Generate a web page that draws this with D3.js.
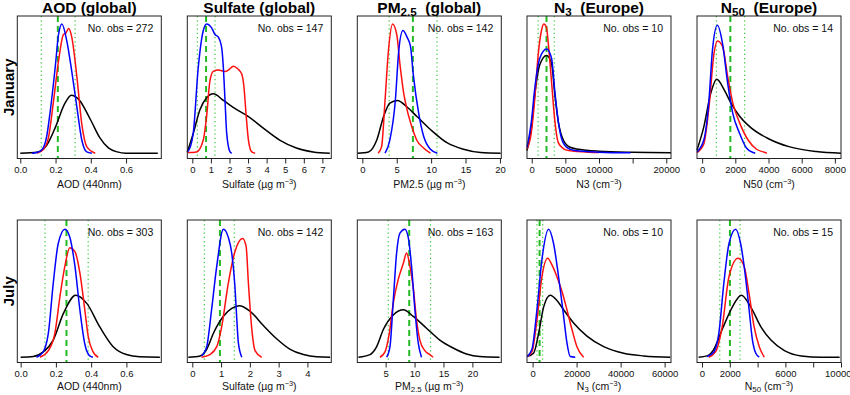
<!DOCTYPE html>
<html>
<head>
<meta charset="utf-8">
<script src="https://cdn.jsdelivr.net/npm/d3@7"></script>
<style>
  body { margin: 0; background: #fff; }
  text { font-family: "Liberation Sans", Arial, sans-serif; }
</style>
</head>
<body>
<script>
// density curves: [value, density relative to the tallest curve of the panel]
const aodJanBlue  = [[0.066,0],[0.095,0.005],[0.125,0.03],[0.15,0.13],[0.17,0.32],[0.198,0.65],[0.217,0.9],[0.236,0.98],[0.264,0.85],[0.292,0.62],[0.321,0.35],[0.349,0.1],[0.377,0.01],[0.406,0]];
const aodJanRed   = [[0.094,0],[0.132,0.03],[0.16,0.12],[0.189,0.4],[0.217,0.7],[0.245,0.9],[0.258,0.91],[0.274,0.945],[0.292,0.88],[0.321,0.58],[0.349,0.22],[0.377,0.05],[0.425,0]];
const aodJanBlack = [[0,0],[0.1,0.01],[0.15,0.06],[0.2,0.2],[0.25,0.37],[0.29,0.44],[0.33,0.41],[0.4,0.25],[0.45,0.12],[0.5,0.04],[0.55,0.01],[0.6,0],[0.78,0]];

const sulJanBlue  = [[-0.27,0.01],[-0.1,0.05],[0.05,0.15],[0.32,0.65],[0.59,0.93],[0.77,0.98],[1.04,0.95],[1.22,0.9],[1.4,0.88],[1.58,0.8],[1.67,0.65],[1.76,0.4],[1.85,0.15],[2.03,0.01],[2.12,0]];
const sulJanRed   = [[-0.27,0.005],[0.23,0.01],[0.59,0.1],[0.77,0.28],[0.95,0.55],[1.13,0.62],[1.4,0.63],[1.76,0.62],[1.94,0.63],[2.21,0.66],[2.44,0.64],[2.66,0.6],[2.78,0.5],[2.89,0.3],[3.02,0.1],[3.2,0.01],[3.38,0]];
const sulJanBlack = [[-0.27,0.01],[0.05,0.15],[0.41,0.33],[0.77,0.42],[1.13,0.45],[1.67,0.4],[2.39,0.33],[3.0,0.28],[3.82,0.19],[4.7,0.1],[5.6,0.04],[6.5,0.01],[7.4,0]];

const pmJanBlue   = [[3.3,0],[4.0,0.1],[4.8,0.4],[5.3,0.78],[5.9,0.93],[6.5,0.88],[7.0,0.81],[7.4,0.6],[8.2,0.3],[8.9,0.13],[9.9,0.03],[10.9,0]];
const pmJanRed    = [[2.3,0],[2.8,0.05],[3.3,0.4],[3.8,0.78],[4.4,0.98],[5.0,0.9],[5.5,0.66],[6.0,0.46],[6.5,0.33],[7.2,0.2],[7.9,0.1],[8.9,0.04],[9.9,0]];
const pmJanBlack  = [[-0.7,0],[0.9,0.01],[2.1,0.1],[3.1,0.28],[4.0,0.38],[5.1,0.4],[6.5,0.35],[7.9,0.28],[9.9,0.18],[12.3,0.08],[14.7,0.03],[17.2,0.005],[20.1,0]];

const n3JanBlue   = [[-700,0.045],[-50,0.24],[450,0.49],[1200,0.72],[2200,0.79],[2950,0.72],[3450,0.46],[3950,0.24],[4450,0.11],[5200,0.045],[6450,0.02],[10000,0.008],[14700,0.003]];
const n3JanRed    = [[-700,0.03],[-50,0.16],[450,0.41],[950,0.74],[1450,0.93],[1800,0.98],[2200,0.95],[2450,0.84],[2950,0.54],[3450,0.24],[3950,0.08],[4700,0.035],[5450,0.02],[8000,0.01],[10000,0.006]];
const n3JanBlack  = [[-700,0.02],[-50,0.19],[450,0.44],[1200,0.67],[2200,0.74],[2950,0.68],[3450,0.44],[3950,0.24],[4700,0.1],[5700,0.045],[7000,0.03],[10000,0.015],[15000,0.007],[20700,0.004]];

const n50JanBlue  = [[-310,0.01],[100,0.1],[410,0.4],[620,0.78],[920,0.97],[1230,0.83],[1540,0.53],[1850,0.3],[2260,0.15],[2670,0.04],[3080,0.005],[3200,0]];
const n50JanRed   = [[-310,0.005],[100,0.07],[410,0.35],[720,0.76],[920,0.85],[1230,0.81],[1540,0.58],[1850,0.38],[2260,0.23],[2770,0.1],[3280,0.03],[3800,0.005],[3900,0]];
const n50JanBlack = [[-310,0.025],[100,0.2],[510,0.45],[880,0.56],[1330,0.48],[1740,0.38],[2260,0.28],[2970,0.19],[4000,0.11],[5230,0.05],[6870,0.013],[8370,0]];

const aodJulBlue  = [[0.09,0],[0.128,0.04],[0.157,0.18],[0.185,0.56],[0.213,0.86],[0.251,0.97],[0.279,0.91],[0.308,0.69],[0.336,0.36],[0.364,0.1],[0.392,0.01],[0.41,0]];
const aodJulRed   = [[0.11,0],[0.157,0.05],[0.194,0.18],[0.223,0.46],[0.251,0.69],[0.279,0.83],[0.308,0.8],[0.336,0.64],[0.364,0.36],[0.383,0.16],[0.411,0.04],[0.44,0]];
const aodJulBlack = [[0,0],[0.072,0.005],[0.128,0.04],[0.185,0.13],[0.242,0.33],[0.313,0.47],[0.374,0.41],[0.449,0.23],[0.525,0.08],[0.6,0.02],[0.675,0.003],[0.79,0]];

const sulJulBlue  = [[0.32,0.01],[0.5,0.08],[0.67,0.36],[0.85,0.69],[1.08,0.97],[1.25,0.91],[1.37,0.79],[1.48,0.54],[1.54,0.31],[1.6,0.11],[1.72,0]];
const sulJulRed   = [[0.32,0],[0.61,0.02],[0.85,0.08],[1.02,0.23],[1.25,0.56],[1.48,0.8],[1.75,0.9],[1.87,0.84],[1.95,0.56],[2.06,0.23],[2.18,0.05],[2.41,0]];
const sulJulBlack = [[-0.14,0],[0.27,0.01],[0.5,0.06],[0.73,0.18],[1.08,0.31],[1.37,0.37],[1.63,0.39],[2.0,0.35],[2.47,0.24],[2.93,0.14],[3.4,0.06],[3.86,0.02],[4.32,0.003],[4.79,0]];

const pmJulBlue   = [[5.17,0],[5.75,0.08],[6.32,0.43],[6.9,0.79],[7.47,0.94],[8.33,0.97],[8.9,0.91],[9.48,0.69],[10.06,0.36],[10.63,0.11],[11.2,0]];
const pmJulRed    = [[4.02,0],[4.89,0.04],[5.63,0.18],[6.32,0.41],[7.18,0.59],[8.05,0.71],[8.62,0.79],[9.2,0.69],[9.77,0.53],[10.35,0.28],[10.92,0.13],[11.78,0.05],[12.64,0.02],[13.2,0]];
const pmJulBlack  = [[0.29,0],[2.3,0.02],[3.45,0.08],[4.6,0.21],[6.32,0.32],[8.05,0.36],[9.77,0.31],[12.07,0.22],[14.37,0.13],[16.67,0.07],[18.97,0.025],[21.26,0.005],[24.7,0]];

const n3JulBlue   = [[-2500,0.005],[-300,0.06],[1970,0.36],[4240,0.74],[7270,0.97],[9550,0.86],[11800,0.61],[14100,0.31],[15600,0.11],[17100,0.005],[19400,0]];
const n3JulRed    = [[-2500,0.005],[-300,0.04],[1970,0.28],[4240,0.61],[6820,0.75],[8790,0.7],[11060,0.61],[13330,0.5],[15600,0.36],[17900,0.21],[20150,0.08],[23180,0]];
const n3JulBlack  = [[-2500,0.005],[450,0.03],[2730,0.18],[5000,0.38],[8030,0.47],[11060,0.43],[14090,0.36],[18640,0.26],[24700,0.16],[32300,0.08],[41400,0.03],[50500,0.01],[62600,0]];

const n50JulBlue  = [[360,0.005],[850,0.04],[1210,0.18],[1570,0.56],[1940,0.86],[2420,0.97],[2780,0.86],[3150,0.59],[3390,0.36],[3630,0.13],[3870,0.03],[4120,0]];
const n50JulRed   = [[480,0],[970,0.04],[1450,0.23],[1940,0.61],[2590,0.75],[3030,0.69],[3390,0.48],[3750,0.23],[4120,0.08],[4480,0]];
const n50JulBlack = [[-240,0],[360,0.01],[850,0.06],[1450,0.21],[2180,0.38],[2830,0.47],[3510,0.38],[4240,0.23],[4960,0.13],[5930,0.05],[7140,0.01],[8600,0],[9900,0]];

// green reference lines: [low (dotted), centre (dashed), high (dotted)]
const aodJanGreen = [0.119, 0.213, 0.311];
const sulJanGreen = [0.27, 0.74, 1.22];
const pmJanGreen  = [3.9, 7.35, 10.85];
const n3JanGreen  = [950, 2200, 3350];
const n50JanGreen = [860, 1700, 2560];
const aodJulGreen = [0.138, 0.26, 0.383];
const sulJulGreen = [0.42, 0.96, 1.46];
const pmJulGreen  = [5.46, 9.08, 12.76];
const n3JulGreen  = [1970, 3180, 4550];
const n50JulGreen = [1280, 2010, 2740];

const obsJan = [272, 147, 142, 10, 14];
const obsJul = [303, 142, 163, 10, 15];

// tick values and labels
const aodTicks = [0, 0.2, 0.4, 0.6];
const aodTickLabels = ["0.0", "0.2", "0.4", "0.6"];
const sulJanTicks = [0, 1, 2, 3, 4, 5, 6, 7];
const sulJulTicks = [0, 1, 2, 3, 4];
const pmJanTicks = [0, 5, 10, 15, 20];
const pmJulTicks = [5, 10, 15, 20];
const n3JanTicks = [0, 5000, 10000, 15000, 20000];
const n3JanTickLabels = ["0", "5000", "10000", "", "20000"];
const n3JulTicks = [0, 20000, 40000, 60000];
const n50JanTicks = [0, 2000, 4000, 6000, 8000];
const n50JulTicks = [0, 2000, 4000, 6000, 8000, 10000];
const n50JulTickLabels = ["0", "2000", "", "6000", "", "10000"];

const columnTitles = [
  [["AOD (global)", ""]],
  [["Sulfate (global)", ""]],
  [["PM", ""], ["2.5", "sub"], ["\u00a0 (global)", ""]],
  [["N", ""], ["3", "sub"], ["\u00a0 (Europe)", ""]],
  [["N", ""], ["50", "sub"], ["\u00a0 (Europe)", ""]]
];
const rowTitles = ["January", "July"];

const unitUg = [["\u00b5g m", ""], ["\u22123", "sup"], [")", ""]];
const unitCm = [["cm", ""], ["\u22123", "sup"], [")", ""]];
const janLabels = [
  [["AOD (440nm)", ""]],
  [["Sulfate (", ""]].concat(unitUg),
  [["PM2.5 (", ""]].concat(unitUg),
  [["N3 (", ""]].concat(unitCm),
  [["N50 (", ""]].concat(unitCm)
];
const julLabels = [
  [["AOD (440nm)", ""]],
  [["Sulfate (", ""]].concat(unitUg),
  [["PM", ""], ["2.5", "sub"], [" (", ""]].concat(unitUg),
  [["N", ""], ["3", "sub"], [" (", ""]].concat(unitCm),
  [["N", ""], ["50", "sub"], [" (", ""]].concat(unitCm)
];

function main() {
  const W = 850, H = 395;
  const colLeft = [17.3, 187.3, 357.3, 527, 697];
  const boxW = 144;
  const rowTop = [16, 220], boxH = 142.5;

  const svg = d3.select("body").append("svg")
    .attr("width", W).attr("height", H);

  const panels = [
    {r:0, c:0, dom:[-0.017, 0.80], ticks:aodTicks, labels:aodTickLabels, blue:aodJanBlue, red:aodJanRed, black:aodJanBlack, green:aodJanGreen},
    {r:0, c:1, dom:[-0.27, 7.48], ticks:sulJanTicks, blue:sulJanBlue, red:sulJanRed, black:sulJanBlack, green:sulJanGreen},
    {r:0, c:2, dom:[-0.73, 20.2], ticks:pmJanTicks, blue:pmJanBlue, red:pmJanRed, black:pmJanBlack, green:pmJanGreen},
    {r:0, c:3, dom:[-700, 20700], ticks:n3JanTicks, labels:n3JanTickLabels, blue:n3JanBlue, red:n3JanRed, black:n3JanBlack, green:n3JanGreen},
    {r:0, c:4, dom:[-310, 8370], ticks:n50JanTicks, blue:n50JanBlue, red:n50JanRed, black:n50JanBlack, green:n50JanGreen},
    {r:1, c:0, dom:[-0.019, 0.798], ticks:aodTicks, labels:aodTickLabels, blue:aodJulBlue, red:aodJulRed, black:aodJulBlack, green:aodJulGreen},
    {r:1, c:1, dom:[-0.174, 4.83], ticks:sulJulTicks, blue:sulJulBlue, red:sulJulRed, black:sulJulBlack, green:sulJulGreen},
    {r:1, c:2, dom:[0.1, 25.0], ticks:pmJulTicks, blue:pmJulBlue, red:pmJulRed, black:pmJulBlack, green:pmJulGreen},
    {r:1, c:3, dom:[-2545, 62900], ticks:n3JulTicks, blue:n3JulBlue, red:n3JulRed, black:n3JulBlack, green:n3JulGreen},
    {r:1, c:4, dom:[-360, 10000], ticks:n50JulTicks, labels:n50JulTickLabels, blue:n50JulBlue, red:n50JulRed, black:n50JulBlack, green:n50JulGreen}
  ];

  // write a label made of [text, kind] pieces with sub/superscripts
  function rich(sel, parts, size) {
    const subDy = size * 0.25, supDy = size * 0.33;
    parts.forEach((p, i) => {
      const t = sel.append("tspan").text(p[0]);
      if (p[1] === "sub") t.attr("font-size", size * 0.75).attr("dy", subDy);
      if (p[1] === "sup") t.attr("font-size", size * 0.7).attr("dy", -supDy);
      const prev = parts[i - 1];
      if (p[1] === "" && prev) {
        // back to the baseline after a shifted piece
        if (prev[1] === "sub") t.attr("dy", -subDy);
        if (prev[1] === "sup") t.attr("dy", supDy);
      }
    });
  }

  panels.forEach(p => {
    const x0 = colLeft[p.c], y0 = rowTop[p.r];
    const g = svg.append("g").attr("transform", `translate(${x0},${y0})`);

    const x = d3.scaleLinear().domain(p.dom).range([0, boxW]);
    const y = d3.scaleLinear().domain([-0.04, 1.04]).range([boxH, 0]);

    // green reference lines
    const gl = p.green;
    g.selectAll(".dot").data([gl[0], gl[2]]).join("line")
      .attr("x1", d => x(d)).attr("x2", d => x(d))
      .attr("y1", 0).attr("y2", boxH)
      .attr("stroke", "#33cc33").attr("stroke-width", 1.2)
      .attr("stroke-dasharray", "1.2,3");
    g.append("line")
      .attr("x1", x(gl[1])).attr("x2", x(gl[1]))
      .attr("y1", 0).attr("y2", boxH)
      .attr("stroke", "#22bb22").attr("stroke-width", 2)
      .attr("stroke-dasharray", "6,4");

    const line = d3.line()
      .x(d => x(d[0])).y(d => y(d[1]))
      .curve(d3.curveMonotoneX);

    [["#000", p.black], ["#ff1010", p.red], ["#0000ff", p.blue]].forEach(([col, data]) => {
      g.append("path")
        .attr("d", line(data))
        .attr("fill", "none")
        .attr("stroke", col)
        .attr("stroke-width", 1.5)
        .attr("stroke-linejoin", "round");
    });

    // box
    g.append("rect")
      .attr("width", boxW).attr("height", boxH)
      .attr("fill", "none").attr("stroke", "#222").attr("stroke-width", 1);

    // x axis
    const ax = d3.axisBottom(x).tickValues(p.ticks).tickSize(5).tickPadding(2.5);
    if (p.labels) ax.tickFormat((d, i) => p.labels[i]);
    else ax.tickFormat(d3.format("d"));
    const axg = g.append("g").attr("transform", `translate(0,${boxH})`).call(ax);
    axg.select(".domain").remove();
    axg.selectAll("line").attr("stroke", "#222");
    axg.selectAll("text").attr("font-size", 9.5).attr("font-family", "Liberation Sans, Arial, sans-serif").attr("fill", "#111");
    // the last label at the figure's right edge is pulled in so it stays on the page
    if (p.c === 4 && p.r === 1) {
      axg.selectAll(".tick:last-of-type text").attr("text-anchor", "end").attr("dx", 10);
    }

    // number of observations
    g.append("text")
      .attr("x", boxW - 8).attr("y", 16)
      .attr("text-anchor", "end")
      .attr("font-size", 10.5)
      .attr("fill", "#111")
      .text(`No. obs = ${(p.r === 0 ? obsJan : obsJul)[p.c]}`);

    // x axis label
    const lab = g.append("text")
      .attr("x", boxW / 2)
      .attr("y", p.r === 0 ? 171.5 : 169.5)
      .attr("text-anchor", "middle")
      .attr("font-size", 10.5)
      .attr("fill", "#111");
    rich(lab, (p.r === 0 ? janLabels : julLabels)[p.c], 10.5);
  });

  // column titles
  columnTitles.forEach((parts, c) => {
    const t = svg.append("text")
      .attr("x", colLeft[c] + boxW / 2).attr("y", 12.5)
      .attr("text-anchor", "middle")
      .attr("font-size", 15.5).attr("font-weight", "bold")
      .attr("fill", "#000");
    rich(t, parts, 15.5);
  });

  // row titles
  rowTitles.forEach((name, r) => {
    svg.append("text")
      .attr("transform", `translate(13.5,${rowTop[r] + boxH / 2}) rotate(-90)`)
      .attr("text-anchor", "middle")
      .attr("font-size", 15).attr("font-weight", "bold")
      .attr("fill", "#000")
      .text(name);
  });
}

main();
</script>
</body>
</html>
